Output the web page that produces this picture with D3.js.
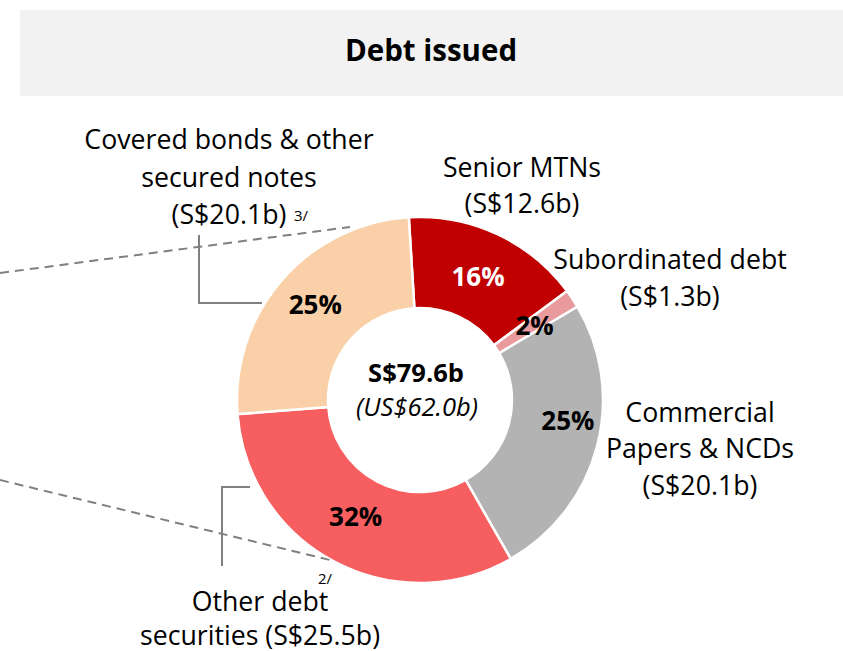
<!DOCTYPE html>
<html><head><meta charset="utf-8">
<script src="https://cdn.jsdelivr.net/npm/d3@7"></script>
<style>body{margin:0;background:#fff;} text{font-family:"Open Sans",sans-serif;}</style>
</head><body><svg id="c" width="843" height="651"></svg>
<script>
const categories = ["Senior MTNs","Subordinated debt","Commercial Papers & NCDs","Other debt securities","Covered bonds & other secured notes"];
const values = [12.6, 1.3, 20.1, 25.5, 20.1];
const percentLabels = ["16%","2%","25%","32%","25%"];
const colors = ["#C00000","#E89A9C","#B3B3B3","#F65E5F","#F9D0A7"];
const totalLabel = "S$79.6b";
const totalUSD = "(US$62.0b)";
const title = "Debt issued";

const svg = d3.select("#c");
svg.append("rect").attr("x",20).attr("y",10).attr("width",823).attr("height",86).attr("fill","#F2F2F2");
svg.append("text").attr("x",431).attr("y",61).attr("text-anchor","middle")
  .attr("font-size",29.5).attr("font-weight",700).attr("fill","#000").text(title);

const cx=420, cy=400, rOut=183, rIn=92;
const start = -3.5*Math.PI/180;
const pie = d3.pie().sort(null).startAngle(start).endAngle(start+2*Math.PI);
const arcs = pie(values);
const arc = d3.arc().innerRadius(rIn).outerRadius(rOut);
const g = svg.append("g").attr("transform",`translate(${cx},${cy})`);

// dashed guide lines (behind the donut)
svg.append("line").attr("x1",0).attr("y1",273).attr("x2",350).attr("y2",227)
  .attr("stroke","#808080").attr("stroke-width",2).attr("stroke-dasharray","9,6");
svg.append("line").attr("x1",0).attr("y1",480).attr("x2",330).attr("y2",560)
  .attr("stroke","#808080").attr("stroke-width",2).attr("stroke-dasharray","9,6");

g.selectAll("path").data(arcs).join("path")
  .attr("d",arc).attr("fill",(d,i)=>colors[i]).attr("stroke","#fff").attr("stroke-width",2.5);

// percentage labels
const labelArc = d3.arc().innerRadius((rIn+rOut)/2).outerRadius((rIn+rOut)/2);
const nudge = [[0,2],[0,2],[15,-14],[0,-5],[-1,-5]];
const pctColor = ["#fff","#000","#000","#000","#000"];
g.selectAll("text.pct").data(arcs).join("text").attr("class","pct")
  .attr("x",(d,i)=>labelArc.centroid(d)[0]+nudge[i][0])
  .attr("y",(d,i)=>labelArc.centroid(d)[1]+nudge[i][1])
  .attr("dy","0.35em").attr("text-anchor","middle")
  .attr("font-size",26).attr("font-weight",700).attr("fill",(d,i)=>pctColor[i])
  .text((d,i)=>percentLabels[i]);

// centre
svg.append("text").attr("x",416).attr("y",382).attr("text-anchor","middle")
  .attr("font-size",25.5).attr("font-weight",700).text(totalLabel);
svg.append("text").attr("x",417).attr("y",416).attr("text-anchor","middle")
  .attr("font-size",25.5).attr("font-style","italic").text(totalUSD);

// leader lines
svg.append("polyline").attr("points","199,235 199,303 262,303").attr("fill","none").attr("stroke","#808080").attr("stroke-width",2);
svg.append("polyline").attr("points","250,487 222,487 222,566").attr("fill","none").attr("stroke","#808080").attr("stroke-width",2);

function block(x, ys, lines, size){
  lines.forEach((t,i)=>svg.append("text").attr("x",x).attr("y",ys[i]).attr("text-anchor","middle")
    .attr("font-size",size||26.7).attr("fill","#000").text(t));
}
block(229,[149,187,224],["Covered bonds & other","secured notes","(S$20.1b)"]);
svg.append("text").attr("x",294).attr("y",221).attr("font-size",15).text("3/");
block(522,[177,213],["Senior MTNs","(S$12.6b)"]);
block(670,[269,306],["Subordinated debt","(S$1.3b)"]);
block(700,[422,458,495],["Commercial","Papers & NCDs","(S$20.1b)"]);
block(260,[611,645],["Other debt","securities (S$25.5b)"]);
svg.append("text").attr("x",318).attr("y",584).attr("font-size",15).text("2/");
</script></body></html>
